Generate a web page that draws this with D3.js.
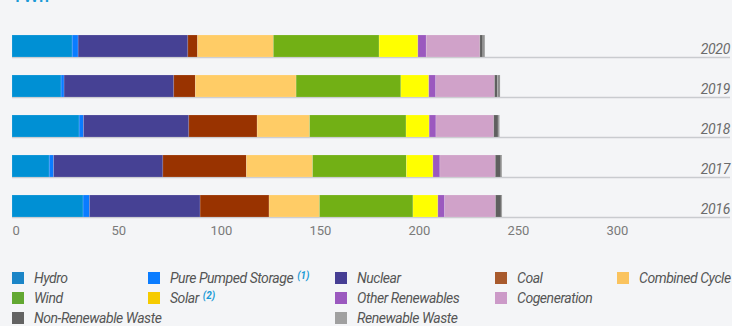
<!DOCTYPE html>
<html>
<head>
<meta charset="utf-8">
<script src="https://cdn.jsdelivr.net/npm/d3@7/dist/d3.min.js"></script>
<style>
  html, body { margin: 0; padding: 0; background: #f4f5f7; }
  svg { display: block; }
</style>
</head>
<body>
<svg id="chart" width="732" height="326"></svg>
<script>
// ---- data ----
const years = ["2020", "2019", "2018", "2017", "2016"];
const sources = ["Hydro", "Pure Pumped Storage", "Nuclear", "Coal", "Combined Cycle",
  "Wind", "Solar", "Other Renewables", "Cogeneration", "Non-Renewable Waste", "Renewable Waste"];
const notes = ["", "(1)", "", "", "", "", "(2)", "", "", "", ""];
// TWh per year, in the order of sources
const hydro      = [30.4, 24.8, 33.9, 18.8, 35.9];
const pumped     = [3.0, 1.5, 2.2, 2.2, 3.2];
const nuclear    = [55.4, 55.4, 53.2, 55.2, 55.9];
const coal       = [4.9, 10.9, 34.5, 42.2, 34.8];
const combined   = [38.3, 50.9, 26.5, 33.4, 25.5];
const wind       = [53.4, 52.9, 48.7, 47.4, 47.2];
const solar      = [19.6, 14.1, 11.7, 13.4, 12.6];
const otherRen   = [4.2, 3.5, 3.4, 3.5, 3.4];
const cogen      = [27.1, 29.7, 29.2, 28.0, 25.7];
const nonRenWaste= [1.5, 1.5, 2.2, 2.8, 2.8];
const renWaste   = [1.0, 1.3, 0.7, 0.5, 0.5];
const ticks = [0, 50, 100, 150, 200, 250, 300];

const barColors = ["#0090d4", "#0a7cff", "#464194", "#993300", "#ffcc66",
  "#72b015", "#ffff00", "#9b59bf", "#d0a2c9", "#5f5f5f", "#8f8f8f"];
const legendColors = ["#1b85c7", "#0a7cff", "#463e94", "#a85a2d", "#fac35e",
  "#62a832", "#f6cb00", "#9b59bf", "#cc9ac8", "#636363", "#a0a0a0"];

const seriesVals = [hydro, pumped, nuclear, coal, combined, wind, solar, otherRen, cogen, nonRenWaste, renWaste];
const table = years.map((y, i) => {
  const row = { year: y };
  sources.forEach((s, j) => row[s] = seriesVals[j][i]);
  return row;
});

// ---- chart ----
const svg = d3.select("#chart");
const fontAxis = "Roboto, 'DejaVu Sans', sans-serif";

// title (cut off at the top edge, as in the original)
svg.append("text").attr("x", 12).attr("y", 2)
  .attr("font-family", fontAxis).attr("font-size", 18).attr("font-weight", 500)
  .attr("fill", "#1a9ad6").text("TWh");

const x = d3.scaleLinear().domain([0, 300]).range([12, 606]);
const y = d3.scaleBand().domain(years).range([35, 217]).paddingInner(0.45).paddingOuter(0);

const stack = d3.stack().keys(sources)(table);

// baselines
svg.append("g").selectAll("line").data(years).join("line")
  .attr("x1", 12).attr("x2", 730)
  .attr("y1", d => y(d) + y.bandwidth() + 0.5)
  .attr("y2", d => y(d) + y.bandwidth() + 0.5)
  .attr("stroke", "#c9cbcf").attr("stroke-width", 1.3);

svg.append("g").selectAll("g").data(stack).join("g")
  .attr("fill", (d, i) => barColors[i])
  .selectAll("rect").data(d => d).join("rect")
  .attr("x", d => x(d[0]))
  .attr("y", d => y(d.data.year))
  .attr("width", d => Math.max(0, x(d[1]) - x(d[0])))
  .attr("height", y.bandwidth())
  .attr("stroke", "rgba(255,255,255,0.18)").attr("stroke-width", 0.8);

// year labels
svg.append("g").selectAll("text").data(years).join("text")
  .attr("x", 730).attr("y", d => y(d) + y.bandwidth() - 3)
  .attr("text-anchor", "end")
  .attr("font-family", fontAxis).attr("font-style", "italic")
  .attr("font-size", 14).attr("fill", "#6b6b6b")
  .attr("letter-spacing", -0.3)
  .text(d => d);

// x axis
const axis = d3.axisBottom(x).tickValues(ticks).tickSize(0).tickPadding(0);
const gAxis = svg.append("g").attr("transform", "translate(0,226)").call(axis);
gAxis.select(".domain").remove();
gAxis.selectAll("text")
  .attr("text-anchor", "start").attr("dy", "0.71em")
  .attr("font-family", fontAxis).attr("font-size", 13).attr("fill", "#7a7a7a");

// legend: 5 columns, three rows; slot = row*5 + column
const colX = [12, 148, 335, 495, 617];
const rowY = [272, 292, 312];
const slots = [0, 1, 2, 3, 4, 5, 6, 7, 8, 10, 12];
const lg = svg.append("g").selectAll("g").data(sources).join("g")
  .attr("transform", (d, i) => `translate(${colX[slots[i] % 5]},${rowY[Math.floor(slots[i] / 5)]})`);
lg.append("rect").attr("width", 12).attr("height", 12).attr("fill", (d, i) => legendColors[i]);
const lt = lg.append("text").attr("x", 22).attr("y", 11)
  .attr("font-family", fontAxis).attr("font-style", "italic")
  .attr("font-size", 14).attr("letter-spacing", -0.45).attr("fill", "#555")
  .text(d => d);
lt.filter((d, i) => notes[i]).append("tspan")
  .attr("dx", 4).attr("dy", -4).attr("font-size", 10).attr("letter-spacing", 0)
  .attr("font-weight", 700).attr("fill", "#1a9ad6")
  .text((d) => notes[sources.indexOf(d)]);
</script>
</body>
</html>
